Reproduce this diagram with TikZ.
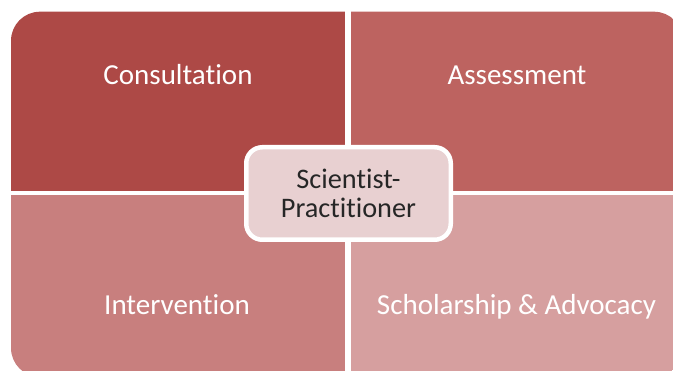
\documentclass[tikz,border=0pt]{standalone}
\usepackage{fontspec}
\setmainfont{Carlito}[Ligatures=CommonOff]
\definecolor{qone}{HTML}{AD4946}
\definecolor{qtwo}{HTML}{BD6360}
\definecolor{qthree}{HTML}{C87F7E}
\definecolor{qfour}{HTML}{D69F9F}
\definecolor{hubfill}{HTML}{E8D0D1}
\definecolor{hubtext}{HTML}{262626}
\tikzset{
  quadlabel/.style={anchor=base, text=white, inner sep=0pt,
    font=\fontsize{29}{30}\selectfont},
  hub/.style={draw=white, line width=4.5pt, fill=hubfill, rounded corners=16pt,
    minimum width=204.5pt, minimum height=92.5pt, inner sep=0pt, align=center,
    text=hubtext, font=\fontsize{28.3}{29.5}\selectfont}
}
\begin{document}
\begin{tikzpicture}[x=1pt,y=-1pt]
  \useasboundingbox (0,0) rectangle (673,371);
  \clip (0,0) rectangle (673,371);
  % four quadrants inside one rounded frame
  \begin{scope}
    \clip[rounded corners=29pt] (11,11.7) rectangle (683,377);
    \fill[qone]   (0,0)       rectangle (345,190.7);
    \fill[qtwo]   (350.5,0)   rectangle (700,190.7);
    \fill[qthree] (0,195.3)   rectangle (344.5,400);
    \fill[qfour]  (351.3,195.3) rectangle (700,400);
  \end{scope}
  % quadrant labels
  \node[quadlabel] (consult) at (178,85) {Consultation};
  \node[quadlabel] (assess)  at (517,85) {Assessment};
  \node[quadlabel] (interv)  at (177,315) {Intervention};
  \node[quadlabel] (schol)   at (516.5,315) {Scholarship \& Advocacy};
  % central hub
  \node[hub] (sp) at (348.5,193.5) {Scientist-\\Practitioner};
\end{tikzpicture}
\end{document}
